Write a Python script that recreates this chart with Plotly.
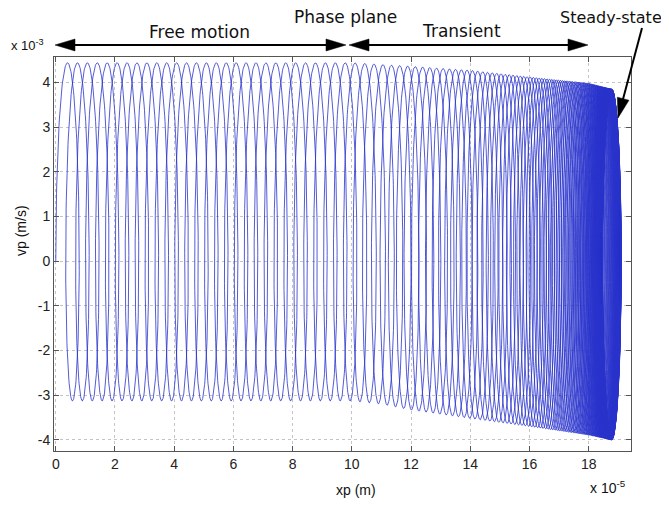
import numpy as np
import plotly.graph_objects as go

# ---- values (x in units of 1e-5 m, v in units of 1e-3 m/s) ----
env_x = [0.0, 10.0, 11.0, 12.0, 14.0, 16.0, 18.0, 18.8]        # xp positions of envelope readings
env_top = [4.44, 4.44, 4.40, 4.36, 4.27, 4.12, 3.98, 3.84]     # upper envelope of vp
env_bot = [-3.13, -3.13, -3.20, -3.33, -3.52, -3.70, -3.89, -4.00]  # lower envelope of vp
free_loop_spacing = 0.335     # advance of xp per oscillation during free motion
transient_start_x = 10.0      # where the transient begins
steady_state_x = 18.8         # centre of the steady-state orbit
n_cycles = 190                # number of oscillations drawn

x_tick_vals = [0, 2, 4, 6, 8, 10, 12, 14, 16, 18]
x_tick_text = ["0", "2", "4", "6", "8", "10", "12", "14", "16", "18"]
y_tick_vals = [-4, -3, -2, -1, 0, 1, 2, 3, 4]
y_tick_text = ["-4", "-3", "-2", "-1", "0", "1", "2", "3", "4"]

# ---- build the phase-plane trajectory from the read envelope ----
ppc = 140
s = np.linspace(0, n_cycles, n_cycles * ppc + 1)
vd_free = (env_top[0] + env_bot[0]) / 2
a_free = (env_top[0] - env_bot[0]) / 2
c = free_loop_spacing / vd_free
A_free = a_free * c / (2 * np.pi)
phi = -np.arccos(-vd_free / a_free)
xg0 = -A_free * np.sin(phi)
s1 = (transient_start_x - xg0) / free_loop_spacing
span = steady_state_x - transient_start_x
tau = span / free_loop_spacing
xg = np.where(s < s1, xg0 + free_loop_spacing * s,
              steady_state_x - span * np.exp(-(s - s1) / tau))
dxg = np.where(s < s1, free_loop_spacing, span / tau * np.exp(-(s - s1) / tau))
vd = dxg / c
top = np.interp(xg, env_x, env_top)
bot = np.interp(xg, env_x, env_bot)
amp = (top - bot) / 2
mid = (top + bot) / 2
k = 2 * (vd - mid)
th = 2 * np.pi * s + phi
v = vd + amp * np.cos(th) - k * (np.cos(th) ** 2 - 0.5)
ds = s[1] - s[0]
x = np.concatenate([[0.0], np.cumsum((v[1:] + v[:-1]) / 2 * c * ds)])

fig = go.Figure()
fig.add_trace(go.Scatter(x=x, y=v, mode="lines",
                         line=dict(color="rgb(40,50,204)", width=0.8),
                         hoverinfo="skip", showlegend=False))

# ---- layout geometry (reference pixels; page body adds an 8 px offset) ----
OFF = 8
L, R, T, B = 54, 631, 57, 451
W, H = 669 - OFF, 505 - OFF


def px(p):
    return (p - L) / (R - L)


def py(p):
    return (B - p) / (B - T)


axis_common = dict(showline=True, linecolor="#555", linewidth=1, mirror="ticks",
                   ticks="inside", ticklen=5, tickcolor="#555",
                   showgrid=True, gridcolor="#c4c4c4", griddash="dot", gridwidth=1,
                   zeroline=False,
                   tickfont=dict(family="Liberation Sans, Arial, sans-serif", size=14, color="#222"))

fig.update_layout(
    width=W, height=H, autosize=False,
    margin=dict(l=L - OFF, r=W - (R - OFF), t=T - OFF, b=H - (B - OFF)),
    paper_bgcolor="white", plot_bgcolor="white",
    xaxis=dict(range=[-0.06, 19.43], tickvals=x_tick_vals, ticktext=x_tick_text, **axis_common),
    yaxis=dict(range=[-4.25, 4.57], tickvals=y_tick_vals, ticktext=y_tick_text, **axis_common),
)

txt_font = dict(family="DejaVu Sans, sans-serif", size=17, color="#111")
lab_font = dict(family="Liberation Sans, Arial, sans-serif", size=14, color="#111")


def ann(text, xp, yp, font, angle=0, xanchor="center"):
    fig.add_annotation(text=text, x=px(xp), y=py(yp), xref="paper", yref="paper",
                       showarrow=False, font=font, textangle=angle,
                       xanchor=xanchor, yanchor="middle")


ann("Phase plane", 346, 17, dict(family="DejaVu Sans, sans-serif", size=17, color="#111"))
ann("Free motion", 200, 32, txt_font)
ann("Transient", 461, 31, txt_font)
ann("Steady-state", 611, 18, dict(family="DejaVu Sans, sans-serif", size=16, color="#111"))
ann("x 10<sup>-3</sup>", 9, 45, dict(family="Liberation Sans, Arial", size=13, color="#111"), xanchor="left")
ann("x 10<sup>-5</sup>", 608, 487, dict(family="Liberation Sans, Arial", size=14, color="#111"))
ann("xp (m)", 356, 490, lab_font)
ann("vp (m/s)", 21, 231, lab_font, angle=-90)

# ---- arrows (lines + filled heads) ----
shapes = []


def seg(x0, y0, x1, y1):
    shapes.append(dict(type="line", xref="paper", yref="paper",
                       x0=px(x0), y0=py(y0), x1=px(x1), y1=py(y1),
                       line=dict(color="black", width=2)))


def head(tx, ty, ux, uy, length=20, half=6):
    bx, by = tx - length * ux, ty - length * uy
    nx, ny = -uy, ux
    p1 = (bx + half * nx, by + half * ny)
    p2 = (bx - half * nx, by - half * ny)
    path = "M {:.5f},{:.5f} L {:.5f},{:.5f} L {:.5f},{:.5f} Z".format(
        px(tx), py(ty), px(p1[0]), py(p1[1]), px(p2[0]), py(p2[1]))
    shapes.append(dict(type="path", xref="paper", yref="paper", path=path,
                       fillcolor="black", line=dict(color="black", width=0.5)))


seg(60, 45, 340, 45)
head(55, 45, -1, 0)
head(346, 45, 1, 0)
seg(355, 45, 582, 45)
head(349, 45, -1, 0)
head(588, 45, 1, 0)
dx, dy = 618 - 642, 118 - 28
ln = (dx ** 2 + dy ** 2) ** 0.5
seg(642, 28, 618 - 10 * dx / ln, 118 - 10 * dy / ln)
head(618, 118, dx / ln, dy / ln)

fig.update_layout(shapes=shapes)
fig.write_html("out.html")
